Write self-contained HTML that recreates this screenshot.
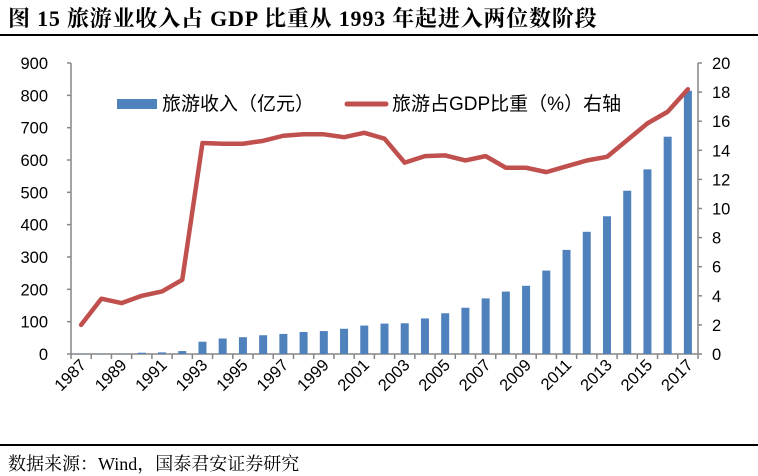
<!DOCTYPE html>
<html><head><meta charset="utf-8"><style>
body{margin:0;background:#fff;width:758px;height:475px;overflow:hidden;position:relative;font-family:"Liberation Sans","Noto Sans CJK SC",sans-serif}
#title{position:absolute;left:8px;top:2px;font:bold 22px "Liberation Serif","Noto Serif CJK SC",serif;color:#000;white-space:nowrap;letter-spacing:0.8px}
#src{position:absolute;left:8px;top:450px;font:18px "Liberation Serif","Noto Serif CJK SC",serif;color:#000;white-space:nowrap}
.rule{position:absolute;left:0;width:758px;height:1.5px;background:#000}
</style></head><body>
<div id="title">图 15 旅游业收入占 GDP 比重从 1993 年起进入两位数阶段</div>
<div class="rule" style="top:34px"></div>
<svg id="chart" width="758" height="475" style="position:absolute;left:0;top:0"></svg>
<div class="rule" style="top:444px"></div>
<div id="src">数据来源：Wind，国泰君安证券研究</div>
<script>
const years=[1987,1988,1989,1990,1991,1992,1993,1994,1995,1996,1997,1998,1999,2000,2001,2002,2003,2004,2005,2006,2007,2008,2009,2010,2011,2012,2013,2014,2015,2016,2017];
const revenue=[1,1,1,4,5,9,38,48,52,58,62,68,71,78,88,94,95,110,126,143,172,193,211,258,322,378,426,505,571,672,814];
const share=[2.0,3.8,3.5,4.0,4.3,5.1,14.5,14.45,14.45,14.65,15.0,15.1,15.1,14.9,15.2,14.8,13.15,13.6,13.65,13.3,13.6,12.8,12.8,12.5,12.9,13.3,13.55,14.7,15.85,16.65,18.2];
const leftTicks=[0,100,200,300,400,500,600,700,800,900];
const rightTicks=[0,2,4,6,8,10,12,14,16,18,20];
const NS='http://www.w3.org/2000/svg';
const svg=document.getElementById('chart');
const X0=71,X1=698,Y0=354,Y1=63;
const bw=(X1-X0)/years.length;
const xc=i=>X0+bw*(i+0.5);
const yL=v=>Y0-(v/900)*(Y0-Y1);
const yR=v=>Y0-(v/20)*(Y0-Y1);
function mk(t,a,p){const e=document.createElementNS(NS,t);for(const k in a)e.setAttribute(k,a[k]);(p||svg).appendChild(e);return e;}
const la=mk('line',{x1:X0,y1:Y1,x2:X0,y2:Y0,stroke:'#868686','stroke-width':1.5});


const ra=mk('line',{x1:X1,y1:Y1,x2:X1,y2:Y0,stroke:'#868686','stroke-width':1.5});


const xa=mk('line',{x1:X0,y1:Y0,x2:X1,y2:Y0,stroke:'#868686','stroke-width':1.5});


leftTicks.forEach(v=>{
  mk('line',{x1:X0-4,y1:yL(v),x2:X0,y2:yL(v),stroke:'#868686','stroke-width':1.5});
  const t=mk('text',{x:48,y:yL(v)+6,'text-anchor':'end','font-size':16.5,fill:'#000'});t.textContent=v;
  
  
});
rightTicks.forEach(v=>{
  mk('line',{x1:X1,y1:yR(v),x2:X1+4,y2:yR(v),stroke:'#868686','stroke-width':1.5});
  const t=mk('text',{x:712,y:yR(v)+6,'font-size':16.5,fill:'#000'});t.textContent=v;
  
  
});
for(let i=0;i<=years.length;i++){mk('line',{x1:X0+bw*i,y1:Y0,x2:X0+bw*i,y2:Y0+5,stroke:'#868686','stroke-width':1.5});}
years.forEach((y,i)=>{
  const b=mk('rect',{x:xc(i)-4,y:yL(revenue[i]),width:8,height:Y0-yL(revenue[i]),fill:'#4f81bd'});
  
  
  if(i%2===0){
    const t=mk('text',{x:xc(i)+6,y:366,'text-anchor':'end','font-size':16.5,fill:'#000',transform:`rotate(-45 ${xc(i)+6} 366)`});
    t.textContent=y;
    
    
  }
});
const pl=mk('polyline',{points:share.map((v,i)=>xc(i)+','+yR(v)).join(' '),fill:'none',stroke:'#c0504d','stroke-width':4.5,'stroke-linejoin':'round','stroke-linecap':'round'});


const g=mk('g',{});


mk('rect',{x:117,y:99,width:40,height:10,fill:'#4f81bd'},g);
const l1=mk('text',{x:162,y:110,'font-size':19,fill:'#000','font-family':'"Noto Sans CJK SC",sans-serif'},g);l1.textContent='旅游收入（亿元）';


mk('line',{x1:347,y1:104,x2:386,y2:104,stroke:'#c0504d','stroke-width':5,'stroke-linecap':'round'},g);
const l2=mk('text',{x:392,y:110,'font-size':19,fill:'#000'},g);l2.textContent='旅游占GDP比重（%）右轴';


</script>
</body></html>
